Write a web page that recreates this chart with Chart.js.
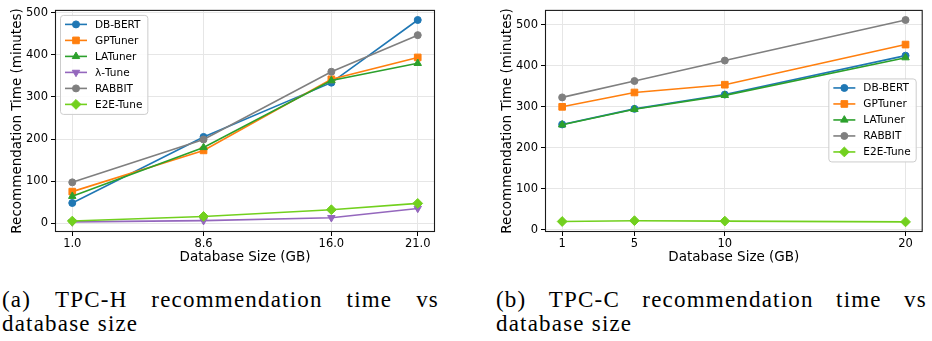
<!DOCTYPE html>
<html>
<head>
<meta charset="utf-8">
<script src="https://cdn.jsdelivr.net/npm/chart.js@4.4.1/dist/chart.umd.min.js"></script>
<style>
  body { margin: 0; background: #fff; width: 932px; height: 341px; position: relative; overflow: hidden; }
  canvas { position: absolute; top: 0; }
  #tpch { left: 0; }
  #tpcc { left: 490px; }
  .caption { position: absolute; font-family: "Liberation Serif", serif; font-size: 23px; line-height: 24px; color: #000; letter-spacing: 1.2px; }
  .caption .first { display: flex; justify-content: space-between; }
</style>
</head>
<body>
<canvas id="tpch" width="445" height="270"></canvas>
<canvas id="tpcc" width="442" height="270"></canvas>
<div class="caption" style="left:2px; top:288px; width:437px">
  <div class="first"><span>(a)</span><span>TPC-H</span><span>recommendation</span><span>time</span><span>vs</span></div>
  <div>database size</div>
</div>
<div class="caption" style="left:496px; top:288px; width:431px">
  <div class="first"><span>(b)</span><span>TPC-C</span><span>recommendation</span><span>time</span><span>vs</span></div>
  <div>database size</div>
</div>
<script>
// TPC-H: tiempo de recomendación (minutos) según tamaño de la base (GB)
const tpchSizes = [1.0, 8.6, 16.0, 21.0];
const tpchSizeLabels = ["1.0", "8.6", "16.0", "21.0"];
const tpchDbBert = [48, 205, 334, 483];
const tpchGpTuner = [75, 173, 342, 394];
const tpchLaTuner = [64, 180, 339, 380];
const tpchLambdaTune = [3, 6, 13, 35];
const tpchRabbit = [97, 199, 360, 447];
const tpchE2eTune = [5, 16, 32, 47];

// TPC-C
const tpccSizes = [1, 5, 10, 20];
const tpccSizeLabels = ["1", "5", "10", "20"];
const tpccDbBert = [257, 295, 330, 425];
const tpccGpTuner = [300, 335, 354, 452];
const tpccLaTuner = [256, 294, 328, 420];
const tpccRabbit = [323, 363, 413, 512];
const tpccE2eTune = [20, 22, 21, 19];

const timeTicks = [0, 100, 200, 300, 400, 500];

// Estilo de cada tuner (color + marcador)
const estilos = {
  "DB-BERT": { color: "#1f77b4", pointStyle: "circle", radius: 3.5 },
  "GPTuner": { color: "#ff7f0e", pointStyle: "rect", radius: 4.7 },
  "LATuner": { color: "#2ca02c", pointStyle: "triangle", radius: 4.3 },
  "λ-Tune": { color: "#9467bd", pointStyle: "triangle", radius: 4.3, rotation: 180 },
  "RABBIT": { color: "#7f7f7f", pointStyle: "circle", radius: 3.5 },
  "E2E-Tune": { color: "#72d01e", pointStyle: "rectRot", radius: 4.9 },
};

const FUENTE = "'DejaVu Sans', sans-serif";

function serie(nombre, xs, ys, i, n) {
  const e = estilos[nombre];
  return {
    label: nombre,
    data: xs.map((x, k) => ({ x: x, y: ys[k] })),
    borderColor: e.color,
    backgroundColor: e.color,
    borderWidth: 1.6,
    pointStyle: e.pointStyle,
    pointRadius: e.radius,
    pointRotation: e.rotation || 0,
    pointBorderWidth: 1,
    pointBackgroundColor: e.color,
    pointBorderColor: e.color,
    order: n - i, // la última serie queda arriba
  };
}

// margen del 5% como en matplotlib
function rango(valores) {
  const min = Math.min(...valores);
  const max = Math.max(...valores);
  const m = (max - min) * 0.05;
  return [min - m, max + m];
}

function marcador(ctx, e, x, y) {
  if (Chart.helpers && Chart.helpers.drawPoint) {
    Chart.helpers.drawPoint(ctx, {
      pointStyle: e.pointStyle,
      radius: e.radius,
      rotation: e.rotation || 0,
      borderWidth: 1,
    }, x, y);
  } else {
    ctx.beginPath();
    ctx.arc(x, y, e.radius, 0, Math.PI * 2);
    ctx.fill();
  }
}

// Marco completo + leyenda dentro del área del gráfico
const marcoYLeyenda = {
  id: "marcoYLeyenda",
  afterDatasetsDraw(chart) {
    const { ctx, chartArea: a } = chart;
    ctx.save();
    ctx.strokeStyle = "#1a1a1a";
    ctx.lineWidth = 1.1;
    ctx.strokeRect(a.left + 0.5, a.top + 0.5, a.right - a.left - 1, a.bottom - a.top - 1);
    ctx.restore();
  },
  afterDraw(chart, args, opts) {
    const { ctx, chartArea: a } = chart;
    const items = chart.data.datasets;
    ctx.save();
    ctx.font = "10.5px " + FUENTE;
    const anchoTexto = Math.max(...items.map((d) => ctx.measureText(d.label).width));
    const pad = 5, linea = 22, hueco = 8, fila = 16;
    const w = pad + linea + hueco + anchoTexto + pad;
    const h = (items.length - 1) * fila + 19;
    let x, y;
    if (opts.lugar === "centro-der") {
      x = a.right - 7 - w;
      y = (a.top + a.bottom) / 2 - h / 2 - 1;
    } else {
      x = a.left + 5;
      y = a.top + 5;
    }
    ctx.fillStyle = "rgba(255,255,255,0.85)";
    ctx.strokeStyle = "#cccccc";
    ctx.lineWidth = 1;
    ctx.beginPath();
    ctx.roundRect(x + 0.5, y + 0.5, w, h, 3);
    ctx.fill();
    ctx.stroke();
    items.forEach((d, i) => {
      const e = estilos[d.label];
      const cy = y + 9.5 + i * fila;
      const x0 = x + pad;
      ctx.strokeStyle = e.color;
      ctx.fillStyle = e.color;
      ctx.lineWidth = 1.6;
      ctx.beginPath();
      ctx.moveTo(x0, cy);
      ctx.lineTo(x0 + linea, cy);
      ctx.stroke();
      ctx.lineWidth = 1;
      marcador(ctx, e, x0 + linea / 2, cy);
      ctx.fillStyle = "#000";
      ctx.textBaseline = "middle";
      ctx.textAlign = "left";
      ctx.fillText(d.label, x0 + linea + hueco, cy + 0.5);
    });
    ctx.restore();
  },
};

function opciones(sizes, sizeLabels, valores, lugar, padDer) {
  const [xMin, xMax] = rango(sizes);
  const [yMin, yMax] = rango(valores);
  return {
    responsive: false,
    animation: false,
    layout: { padding: { top: 6, right: padDer, left: 0, bottom: 0 } },
    plugins: {
      legend: { display: false },
      tooltip: { enabled: false },
      marcoYLeyenda: { lugar: lugar },
    },
    scales: {
      x: {
        type: "linear",
        min: xMin,
        max: xMax,
        afterBuildTicks: (s) => { s.ticks = sizes.map((v) => ({ value: v })); },
        afterFit: (s) => { s.height = 38; },
        ticks: {
          callback: (v, i) => sizeLabels[i],
          autoSkip: false,
          maxRotation: 0,
          padding: 1,
          color: "#000",
          font: { family: FUENTE, size: 11.5 },
        },
        grid: { color: "#e6e6e6", lineWidth: 1, tickColor: "#000", tickLength: 4 },
        border: { display: false },
        title: {
          display: true,
          text: "Database Size (GB)",
          color: "#000",
          font: { family: FUENTE, size: 13.5 },
          padding: { top: 0, bottom: 4.4 },
        },
      },
      y: {
        min: yMin,
        max: yMax,
        afterBuildTicks: (s) => { s.ticks = timeTicks.map((v) => ({ value: v })); },
        afterFit: (s) => { s.width = 55; },
        ticks: {
          padding: 3,
          color: "#000",
          font: { family: FUENTE, size: 11.5 },
        },
        grid: { color: "#e6e6e6", lineWidth: 1, tickColor: "#000", tickLength: 4 },
        border: { display: false },
        title: {
          display: true,
          text: "Recommendation Time (minutes)",
          color: "#000",
          font: { family: FUENTE, size: 13.5 },
          padding: { top: 9.4, bottom: 0 },
        },
      },
    },
  };
}

const nombresH = ["DB-BERT", "GPTuner", "LATuner", "λ-Tune", "RABBIT", "E2E-Tune"];
const valoresH = [tpchDbBert, tpchGpTuner, tpchLaTuner, tpchLambdaTune, tpchRabbit, tpchE2eTune];

new Chart(document.getElementById("tpch"), {
  type: "line",
  data: {
    datasets: nombresH.map((n, i) => serie(n, tpchSizes, valoresH[i], i, nombresH.length)),
  },
  options: opciones(tpchSizes, tpchSizeLabels, valoresH.flat(), "arriba-izq", 10),
  plugins: [marcoYLeyenda],
});

const nombresC = ["DB-BERT", "GPTuner", "LATuner", "RABBIT", "E2E-Tune"];
const valoresC = [tpccDbBert, tpccGpTuner, tpccLaTuner, tpccRabbit, tpccE2eTune];

new Chart(document.getElementById("tpcc"), {
  type: "line",
  data: {
    datasets: nombresC.map((n, i) => serie(n, tpccSizes, valoresC[i], i, nombresC.length)),
  },
  options: opciones(tpccSizes, tpccSizeLabels, valoresC.flat(), "centro-der", 9.3),
  plugins: [marcoYLeyenda],
});
</script>
</body>
</html>
